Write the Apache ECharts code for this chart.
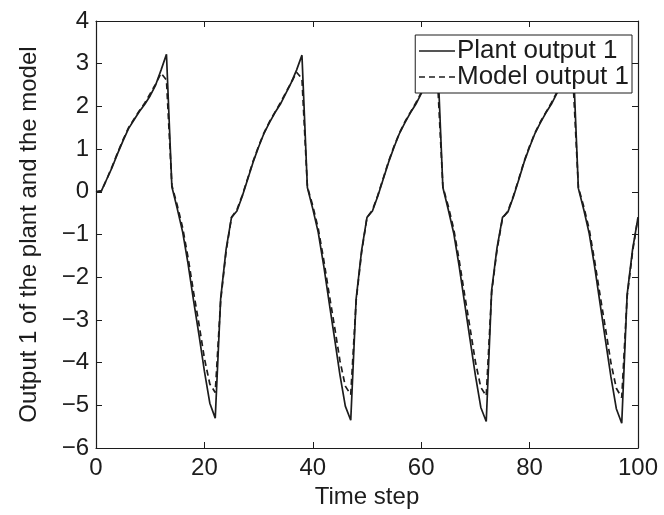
<!DOCTYPE html>
<html>
<head>
<meta charset="utf-8">
<script src="https://cdn.jsdelivr.net/npm/echarts@6/dist/echarts.min.js"></script>
<style>
  html, body { margin: 0; padding: 0; background: #ffffff; }
  #chart { width: 664px; height: 515px; }
</style>
</head>
<body>
<div id="chart"></div>
<script>
// values, one per time step (0..100)
const plantOutput = [
  0, 0.02, 0.3, 0.58, 0.9, 1.2, 1.48, 1.68, 1.88, 2.05, 2.25, 2.5, 2.85, 3.22, 0.12,
  -0.4, -0.95, -1.7, -2.55, -3.35, -4.2, -4.95, -5.3, -2.5, -1.35,
  -0.6, -0.45, -0.1, 0.3, 0.7, 1.05, 1.37, 1.62, 1.85, 2.05, 2.3, 2.55, 2.85, 3.2, 0.1,
  -0.4, -0.95, -1.72, -2.58, -3.42, -4.28, -5.02, -5.35, -2.5, -1.38,
  -0.6, -0.45, -0.1, 0.3, 0.7, 1.05, 1.37, 1.62, 1.85, 2.05, 2.3, 2.55, 2.85, 3.2, 0.1,
  -0.42, -0.97, -1.74, -2.6, -3.45, -4.3, -5.05, -5.38, -2.3, -1.3,
  -0.6, -0.47, -0.12, 0.28, 0.7, 1.05, 1.37, 1.62, 1.85, 2.05, 2.3, 2.55, 2.85, 3.2, 0.08,
  -0.42, -0.98, -1.75, -2.62, -3.48, -4.33, -5.08, -5.42, -2.4, -1.35,
  -0.6
];
const modelOutput = [
  0, 0.02, 0.3, 0.6, 0.92, 1.22, 1.5, 1.7, 1.9, 2.08, 2.3, 2.52, 2.78, 2.62, 0.15,
  -0.32, -0.85, -1.55, -2.35, -3.1, -3.9, -4.5, -4.7, -2.55, -1.4,
  -0.6, -0.42, -0.08, 0.32, 0.72, 1.07, 1.38, 1.64, 1.86, 2.08, 2.32, 2.55, 2.8, 2.65, 0.12,
  -0.33, -0.86, -1.58, -2.38, -3.15, -3.95, -4.55, -4.75, -2.55, -1.42,
  -0.6, -0.43, -0.08, 0.32, 0.72, 1.07, 1.38, 1.64, 1.86, 2.08, 2.32, 2.55, 2.8, 2.65, 0.12,
  -0.34, -0.87, -1.6, -2.4, -3.18, -3.98, -4.58, -4.78, -2.35, -1.35,
  -0.62, -0.45, -0.1, 0.3, 0.72, 1.07, 1.38, 1.64, 1.86, 2.08, 2.32, 2.55, 2.8, 2.65, 0.1,
  -0.35, -0.88, -1.62, -2.42, -3.2, -4.0, -4.6, -4.82, -2.45, -1.4,
  -0.6
];
const timeSteps = plantOutput.map((_, i) => i);
const seriesNames = ['Plant output 1', 'Model output 1'];
const xTicks = { min: 0, max: 100, interval: 20 };
const yTicks = { min: -6, max: 4, interval: 1 };

const INK = '#1c1c1c';
const FONT = '"Liberation Sans", Arial, sans-serif';

const tickStyle = { inside: true, length: 6, lineStyle: { color: INK, width: 1 } };
const lineStyle = { color: INK, width: 1.2 };

const chart = echarts.init(document.getElementById('chart'), null, { renderer: 'canvas' });
chart.setOption({
  backgroundColor: '#ffffff',
  animation: false,
  textStyle: { fontFamily: FONT, color: INK },
  grid: { left: 96, right: 26, top: 21, bottom: 67, show: false },
  legend: {
    orient: 'vertical',
    right: 32,
    top: 35,
    data: seriesNames,
    backgroundColor: '#ffffff',
    borderColor: INK,
    borderWidth: 1,
    padding: [3, 3, 3, 3],
    itemGap: 0,
    itemWidth: 36,
    itemHeight: 14,
    itemStyle: { opacity: 0 },
    lineStyle: { width: 1.5, color: INK, inactiveWidth: 1.5 },
    textStyle: { fontFamily: FONT, fontSize: 26, color: INK, lineHeight: 21.5, padding: [0, 0, 0, -3] }
  },
  xAxis: [
    {
      type: 'value', position: 'bottom',
      min: xTicks.min, max: xTicks.max, interval: xTicks.interval,
      name: 'Time step', nameLocation: 'middle', nameGap: 36,
      nameTextStyle: { fontFamily: FONT, fontSize: 24, color: INK },
      axisLine: { show: true, onZero: false, lineStyle },
      axisTick: tickStyle,
      axisLabel: { fontFamily: FONT, fontSize: 24, color: INK, margin: 8 },
      splitLine: { show: false }
    },
    {
      type: 'value', position: 'top',
      min: xTicks.min, max: xTicks.max, interval: xTicks.interval,
      axisLine: { show: true, onZero: false, lineStyle },
      axisTick: tickStyle,
      axisLabel: { show: false },
      splitLine: { show: false }
    }
  ],
  yAxis: [
    {
      type: 'value', position: 'left',
      min: yTicks.min, max: yTicks.max, interval: yTicks.interval,
      name: 'Output 1 of the plant and the model', nameLocation: 'middle', nameGap: 55,
      nameTextStyle: { fontFamily: FONT, fontSize: 24, color: INK },
      axisLine: { show: true, onZero: false, lineStyle },
      axisTick: tickStyle,
      axisLabel: {
        fontFamily: FONT, fontSize: 24, color: INK, margin: 7,
        formatter: (v) => (v < 0 ? '\u2212' + Math.abs(v) : String(v))
      },
      splitLine: { show: false }
    },
    {
      type: 'value', position: 'right',
      min: yTicks.min, max: yTicks.max, interval: yTicks.interval,
      axisLine: { show: true, onZero: false, lineStyle },
      axisTick: tickStyle,
      axisLabel: { show: false },
      splitLine: { show: false }
    }
  ],
  series: [
    {
      name: seriesNames[0],
      type: 'line',
      data: timeSteps.map((t, i) => [t, plantOutput[i]]),
      symbol: 'none',
      lineStyle: { color: INK, width: 1.7, type: 'solid' },
      itemStyle: { color: INK },
      z: 3
    },
    {
      name: seriesNames[1],
      type: 'line',
      data: timeSteps.map((t, i) => [t, modelOutput[i]]),
      symbol: 'none',
      lineStyle: { color: INK, width: 1.7, type: [6, 4] },
      itemStyle: { color: INK },
      z: 2
    }
  ]
});
</script>
</body>
</html>
